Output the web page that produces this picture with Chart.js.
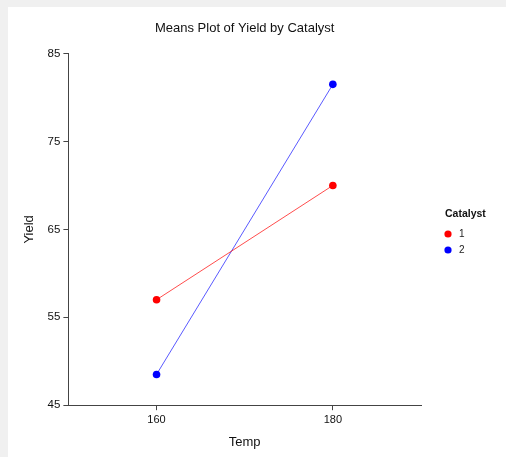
<!DOCTYPE html>
<html>
<head>
<meta charset="utf-8">
<script src="https://cdn.jsdelivr.net/npm/chart.js@4/dist/chart.umd.min.js"></script>
<style>
html, body { margin: 0; padding: 0; background: #f0f0f0; }
#panel { position: absolute; left: 8px; top: 7px; width: 498px; height: 450px; background: #ffffff; }
canvas { display: block; }
</style>
</head>
<body>
<div id="panel"><canvas id="c" width="498" height="450"></canvas></div>
<script>
// Temperature levels on the x axis
const temps = [160, 180];
// Catalyst groups
const catalysts = ['1', '2'];
const catalystColors = ['#ff0000', '#0000ff'];
const lineColors = ['rgba(255,0,0,0.7)', 'rgba(0,0,255,0.65)'];
// Mean yield per temperature, one array per catalyst
const yieldCat1 = [57.0, 70.0];
const yieldCat2 = [48.5, 81.5];
const seriesValues = [yieldCat1, yieldCat2];
// Axis ticks
const xTicks = [160, 180];
const yTicks = [45, 55, 65, 75, 85];

const FONT = '"Liberation Sans", Arial, sans-serif';
const AXIS_COLOR = '#444444';

const datasets = catalysts.map((cat, i) => ({
  label: cat,
  data: temps.map((t, j) => ({ x: t, y: seriesValues[i][j] })),
  borderColor: lineColors[i],
  backgroundColor: catalystColors[i],
  pointBackgroundColor: catalystColors[i],
  pointBorderColor: catalystColors[i],
  pointRadius: 3.8,
  pointBorderWidth: 0,
  borderWidth: 1,
  showLine: true,
  fill: false
}));

// Legend drawn at the right of the plot: bold title and a dot per catalyst
const sideLegend = {
  id: 'sideLegend',
  afterDraw(chart) {
    const ctx = chart.ctx;
    const x0 = 437, y0 = 207;
    ctx.save();
    ctx.fillStyle = '#111';
    ctx.textBaseline = 'middle';
    ctx.textAlign = 'left';
    ctx.font = 'bold 10.5px ' + FONT;
    ctx.fillText('Catalyst', x0, y0);
    ctx.font = '10px ' + FONT;
    chart.data.datasets.forEach((ds, i) => {
      const y = y0 + 20 + i * 16;
      ctx.beginPath();
      ctx.fillStyle = ds.pointBackgroundColor;
      ctx.arc(x0 + 3, y, 3.6, 0, Math.PI * 2);
      ctx.fill();
      ctx.fillStyle = '#222';
      ctx.fillText(ds.label, x0 + 14, y + 0.5);
    });
    ctx.restore();
  }
};

new Chart(document.getElementById('c'), {
  type: 'scatter',
  data: { datasets },
  plugins: [sideLegend],
  options: {
    responsive: false,
    animation: false,
    layout: { padding: { left: 7, right: 85, top: 0, bottom: 1 } },
    plugins: {
      legend: { display: false },
      tooltip: { enabled: false },
      title: {
        display: true,
        text: 'Means Plot of Yield by Catalyst',
        fullSize: false,
        color: '#111',
        font: { family: FONT, size: 13, weight: 'normal' },
        padding: { top: 14, bottom: 17 }
      }
    },
    scales: {
      x: {
        type: 'linear',
        min: 150,
        max: 190,
        afterBuildTicks: (scale) => { scale.ticks = xTicks.map(v => ({ value: v })); },
        grid: { drawOnChartArea: false, drawTicks: true, tickLength: 5, color: AXIS_COLOR },
        border: { display: true, color: AXIS_COLOR, width: 1 },
        ticks: { color: '#111', font: { family: FONT, size: 11 }, padding: 3 },
        title: { display: true, text: 'Temp', color: '#111', font: { family: FONT, size: 13 }, padding: { top: 5, bottom: 6 } }
      },
      y: {
        min: 45,
        max: 85,
        afterBuildTicks: (scale) => { scale.ticks = yTicks.map(v => ({ value: v })); },
        grid: { drawOnChartArea: false, drawTicks: true, tickLength: 5, color: AXIS_COLOR },
        border: { display: true, color: AXIS_COLOR, width: 1 },
        ticks: { color: '#111', font: { family: FONT, size: 11.5 }, padding: 3 },
        title: { display: true, text: 'Yield', color: '#111', font: { family: FONT, size: 13 }, padding: 7 }
      }
    }
  }
});
</script>
</body>
</html>
